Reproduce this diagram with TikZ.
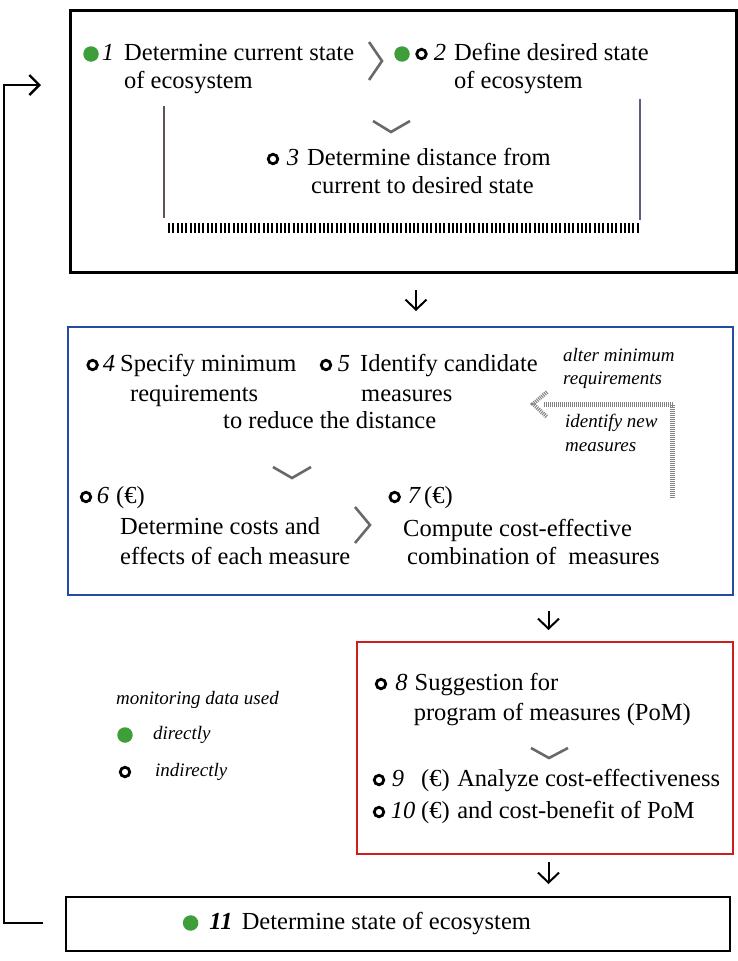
\documentclass[tikz,border=0pt]{standalone}
\usepackage{fontspec}
\setmainfont{Liberation Serif}
\usetikzlibrary{arrows.meta}
\definecolor{dotgreen}{RGB}{62,158,58}
\definecolor{boxblue}{RGB}{35,75,165}
\definecolor{boxred}{RGB}{205,30,30}
\definecolor{chevgray}{RGB}{105,105,105}
\definecolor{hatchgray}{RGB}{130,130,130}
\definecolor{lineleft}{RGB}{100,80,85}
\definecolor{lineright}{RGB}{95,95,125}
\begin{document}
\begin{tikzpicture}[x=1pt,y=-1pt,
  txt/.style={anchor=west, inner sep=0pt, font=\fontsize{24.5}{29}\selectfont, text height=17pt, text depth=5pt},
  num/.style={anchor=center, inner sep=0pt, font=\fontsize{24.5}{29}\selectfont\itshape, text height=17pt, text depth=5pt},
  lab/.style={anchor=west, inner sep=0pt, font=\fontsize{19}{22}\selectfont\itshape, text height=13pt, text depth=4pt},
  gdot/.style={circle, fill=dotgreen, minimum size=15.5pt, inner sep=0pt},
  odot/.style={circle, draw=black, line width=2.8pt, minimum size=9.5pt, inner sep=0pt},
  chev/.style={draw=chevgray, line width=2.6pt},
  hatch/.style={draw=hatchgray, line width=5pt, dash pattern=on 1pt off 1pt},
  darr/.style={draw=black, line width=2pt, -{Straight Barb[length=10pt,width=21pt]}},
  frame/.style={draw, inner sep=0pt}
]
\useasboundingbox (0,0) rectangle (737,961);

% ---------- boxes ----------
\node[frame, draw=black, line width=3pt, minimum width=666pt, minimum height=262pt] (B1) at (403,141) {};
\node[frame, draw=boxblue, line width=2.6pt, minimum width=665pt, minimum height=268pt] (B2) at (400.5,461) {};
\node[frame, draw=boxred, line width=2.6pt, minimum width=376pt, minimum height=212pt] (B3) at (545,748) {};
\node[frame, draw=black, line width=2.8pt, minimum width=664pt, minimum height=54pt] (B4) at (398,924) {};

% ---------- box 1 ----------
\node[gdot] (d1) at (91,54) {};
\node[num] (n1) at (108,54) {1};
\node[txt] (t1a) at (124,54) {Determine current state};
\node[txt] (t1b) at (124,82) {of ecosystem};

\draw[chev] (369,42) -- (382,61) -- (369,80);

\node[gdot] (d2) at (402,54) {};
\node[odot] (o2) at (421.5,54) {};
\node[num] (n2) at (440,54) {2};
\node[txt] (t2a) at (454,54) {Define desired state};
\node[txt] (t2b) at (454,82) {of ecosystem};

\draw[draw=lineleft, line width=2.6pt] (164,106) -- (164,218);
\draw[draw=lineright, line width=2.6pt] (640,99) -- (640,220);
\draw[chev] (373,121) -- (391,132) -- (410,121);

\node[odot] (o3) at (273,159) {};
\node[num] (n3) at (293,159) {3};
\node[txt] (t3a) at (307,159) {Determine distance from};
\node[txt] (t3b) at (311,187) {current to desired state};

\draw[draw=black, line width=10pt, dash pattern=on 2pt off 2.3pt] (168,228) -- (640,228);

% ---------- arrows between boxes ----------
\coordinate (a1s) at (416,290);
\coordinate (a1e) at (416,311);
\draw[darr] (a1s) -- (a1e);
\coordinate (a2s) at (548.5,611);
\coordinate (a2e) at (548.5,630);
\draw[darr] (a2s) -- (a2e);
\coordinate (a3s) at (548.5,862);
\coordinate (a3e) at (548.5,884);
\draw[darr] (a3s) -- (a3e);

% ---------- box 2 ----------
\node[odot] (o4) at (92.6,365) {};
\node[num] (n4) at (109,365) {4};
\node[txt] (t4a) at (120,365) {Specify minimum};
\node[txt] (t4b) at (130,395) {requirements};

\node[odot] (o5) at (326,365) {};
\node[num] (n5) at (344,365) {5};
\node[txt] (t5a) at (360,365) {Identify candidate};
\node[txt] (t5b) at (361,395) {measures};

\node[txt] (t45) at (223,422) {to reduce the distance};
\draw[chev] (273,467) -- (292,478) -- (311,467);

\node[odot] (o6) at (86,497) {};
\node[num] (n6) at (103,497) {6};
\node[txt] (e6) at (116,497) {(€)};
\node[txt] (t6a) at (120,528) {Determine costs and};
\node[txt] (t6b) at (120,558) {effects of each measure};

\draw[chev] (355,507) -- (370,525) -- (355,543);

\node[odot] (o7) at (394.7,497) {};
\node[num] (n7) at (414,497) {7};
\node[txt] (e7) at (424,497) {(€)};
\node[txt] (t7a) at (403,530) {Compute cost-effective};
\node[txt] (t7b) at (407,558) {combination of~ measures};

\node[lab] (l1) at (563,357) {alter minimum};
\node[lab] (l2) at (563,380) {requirements};
\node[lab] (l3) at (565,423) {identify new};
\node[lab] (l4) at (565,447) {measures};
\coordinate (fbA) at (672.5,498);
\coordinate (fbB) at (672.5,404);
\coordinate (fbC) at (544,404);
\draw[hatch] (fbA) -- (fbB) -- (fbC);
\draw[hatch, line width=4pt] (547,392) -- (533,404) -- (547,417);

% ---------- box 3 ----------
\node[odot] (o8) at (381,684) {};
\node[num] (n8) at (401.5,684) {8};
\node[txt] (t8a) at (414.5,684) {Suggestion for};
\node[txt] (t8b) at (413.6,714) {program of measures (PoM)};
\draw[chev] (531,748) -- (549,758) -- (568,748);

\node[odot] (o9) at (379,780) {};
\node[num] (n9) at (398,780) {9};
\node[txt] (t9) at (421,780) {(€)\hspace{7.5pt}Analyze cost-effectiveness};
\node[odot] (o10) at (379,812) {};
\node[num] (n10) at (403,812) {10};
\node[txt] (t10) at (421,812) {(€)\hspace{7.5pt}and cost-benefit of PoM};

% ---------- legend ----------
\node[lab] (lg) at (116,700) {monitoring data used};
\node[gdot] (lgd) at (125,735) {};
\node[lab] (lgt1) at (153,735) {directly};
\node[odot] (lgo) at (125,772) {};
\node[lab] (lgt2) at (155,772) {indirectly};

% ---------- box 4 ----------
\node[gdot] (d11) at (190.6,923) {};
\node[num] (n11) at (221,923) {\bfseries 11};
\node[txt] (t11) at (241.6,923) {Determine state of ecosystem};

% ---------- feedback loop ----------
\coordinate (fb1) at (42.7,923);
\coordinate (fb2) at (4,923);
\coordinate (fb3) at (4,85);
\coordinate (fb4) at (41,85);
\draw[draw=black, line width=2.4pt, -{Straight Barb[length=10pt,width=20pt]}] (fb1) -- (fb2) -- (fb3) -- (fb4);
\end{tikzpicture}
\end{document}
